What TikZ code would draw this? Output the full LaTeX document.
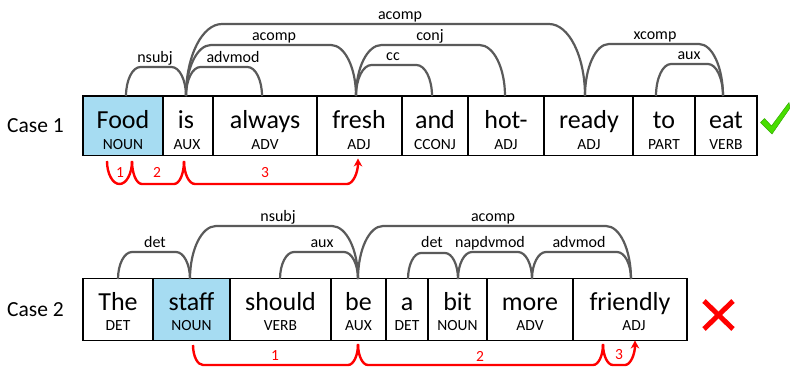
\documentclass[tikz,border=0pt]{standalone}
\usepackage{fontspec}
\setmainfont{Carlito}
\usetikzlibrary{arrows.meta,calc}
\definecolor{arcgray}{RGB}{90,90,90}
\definecolor{nounblue}{RGB}{166,220,242}
\definecolor{redc}{RGB}{255,0,0}
\definecolor{checkgreen}{RGB}{72,222,0}
\definecolor{checkedge}{RGB}{50,170,0}

% gray dependency arc: from, to, height, corner radius
\newcommand\deparc[4]{%
  \draw[arcline] let \p1=(#1), \p2=(#2) in
    (\p1) arc[start angle=180,end angle=90,x radius=#4pt,y radius=#3pt]
    -- ({\x2-#4pt},{\y2+#3pt})
    arc[start angle=90,end angle=0,x radius=#4pt,y radius=#3pt];}
% red step arc: [opts], from, to, radius, left depth, right rise
\newcommand\redarc[6][]{%
  \draw[redpath,#1] let \p1=(#2), \p2=(#3) in
    (\p1) arc[start angle=180,end angle=270,x radius=#4pt,y radius=#5pt]
    -- ({\x2-#4pt},{\y1-#5pt})
    arc[start angle=270,end angle=360,x radius=#4pt,y radius=#6pt];}

\tikzset{
  tok/.style={draw=black, line width=1.5pt, inner sep=0pt},
  tokA/.style={tok, minimum height=59.3pt},
  tokB/.style={tok, minimum height=62pt},
  noun/.style={fill=nounblue},
  word/.style={anchor=base, inner sep=0pt, font=\fontsize{26}{26}\selectfont},
  postag/.style={anchor=base, inner sep=0pt, font=\fontsize{15.5}{15.5}\selectfont},
  arclab/.style={anchor=base, inner sep=0pt, font=\fontsize{16}{16}\selectfont},
  caselab/.style={anchor=base west, inner sep=0pt, font=\fontsize{21.5}{21.5}\selectfont},
  numlab/.style={inner sep=0pt, text=redc, font=\fontsize{15.5}{15.5}\selectfont},
  arcline/.style={draw=arcgray, line width=2.2pt},
  redpath/.style={draw=redc, line width=2.4pt},
  redtip/.style={-{Stealth[length=8pt,width=8.5pt]}},
}

\begin{document}
\begin{tikzpicture}[x=1pt,y=-1pt]
\useasboundingbox (0,0) rectangle (790,368);

% ---------------- Case 1 ----------------
\node[caselab] (case1) at (7,132) {Case 1};

\node[tokA, noun, minimum width=80pt] (food) at (123,125.7) {};
\node[tokA, minimum width=50pt]  (is)     at (188,125.7) {};
\node[tokA, minimum width=104pt] (always) at (265,125.7) {};
\node[tokA, minimum width=85pt]  (fresh)  at (359.5,125.7) {};
\node[tokA, minimum width=66pt]  (and)    at (435,125.7) {};
\node[tokA, minimum width=76pt]  (hot)    at (506,125.7) {};
\node[tokA, minimum width=89pt]  (ready)  at (588.5,125.7) {};
\node[tokA, minimum width=62pt]  (to)     at (664,125.7) {};
\node[tokA, minimum width=62pt]  (eat)    at (726,125.7) {};

\node[word] (food-w)   at (123,128.3) {Food};
\node[word] (is-w)     at (186,128.3) {is};
\node[word] (always-w) at (265,128.3) {always};
\node[word] (fresh-w)  at (359,128.3) {fresh};
\node[word] (and-w)    at (435,128.3) {and};
\node[word] (hot-w)    at (506,128.3) {hot-};
\node[word] (ready-w)  at (589,128.3) {ready};
\node[word] (to-w)     at (664,128.3) {to};
\node[word] (eat-w)    at (726,128.3) {eat};

\node[postag] (food-p)   at (123,149) {NOUN};
\node[postag] (is-p)     at (187,149) {AUX};
\node[postag] (always-p) at (265,149) {ADV};
\node[postag] (fresh-p)  at (359,149) {ADJ};
\node[postag] (and-p)    at (435,149) {CCONJ};
\node[postag] (hot-p)    at (506,149) {ADJ};
\node[postag] (ready-p)  at (589,149) {ADJ};
\node[postag] (to-p)     at (664,149) {PART};
\node[postag] (eat-p)    at (726,149) {VERB};

\coordinate (food-t)   at (126,96);
\coordinate (is-t)     at (186,96);
\coordinate (always-t) at (262,96);
\coordinate (fresh-t)  at (356,96);
\coordinate (and-t)    at (432,96);
\coordinate (hot-t)    at (505,96);
\coordinate (ready-t)  at (585,96);
\coordinate (to-t)     at (656,96);
\coordinate (eat-t)    at (723,96);

\deparc{food-t}{is-t}{29}{14.5}
\deparc{is-t}{always-t}{29}{14.5}
\deparc{is-t}{fresh-t}{51}{25}
\deparc{is-t}{ready-t}{72}{36}
\deparc{fresh-t}{and-t}{31}{15.5}
\deparc{fresh-t}{hot-t}{51}{25.5}
\deparc{ready-t}{eat-t}{52}{24}
\deparc{to-t}{eat-t}{32}{15}

\node[arclab] (l-nsubj1)  at (155,62) {nsubj};
\node[arclab] (l-advmod1) at (233,62) {advmod};
\node[arclab] (l-acomp1)  at (274,40) {acomp};
\node[arclab] (l-acomp2)  at (400,19) {acomp};
\node[arclab] (l-cc)      at (393,60) {cc};
\node[arclab] (l-conj)    at (430,40) {conj};
\node[arclab] (l-xcomp)   at (655,39) {xcomp};
\node[arclab] (l-aux1)    at (689,59) {aux};

% red path case 1
\coordinate (ra) at (107,161);
\coordinate (rb) at (132,161);
\coordinate (rc) at (184,161);
\coordinate (rd) at (358,158.5);
\redarc{ra}{rb}{12.5}{23}{23}
\redarc{rb}{rc}{10}{23}{23}
\redarc[redtip]{rc}{rd}{11}{23}{25.5}
\node[numlab] (n1a) at (120,172.5) {1};
\node[numlab] (n2a) at (157,172.5) {2};
\node[numlab] (n3a) at (265,172.5) {3};

% check mark
\filldraw[fill=checkgreen, draw=checkedge, line width=0.5pt, line join=round]
  (760.5,122.5) -- (764.5,118.5) -- (771.5,126) -- (789,102.5) -- (790,108)
  -- (772,134) -- cycle;

% ---------------- Case 2 ----------------
\node[caselab] (case2) at (7,316) {Case 2};

\node[tokB, minimum width=70pt]  (the)      at (118,309.7) {};
\node[tokB, noun, minimum width=77pt] (staff) at (191.5,309.7) {};
\node[tokB, minimum width=101pt] (should)   at (280.5,309.7) {};
\node[tokB, minimum width=55pt]  (be)       at (358.5,309.7) {};
\node[tokB, minimum width=42pt]  (a)        at (407,309.7) {};
\node[tokB, minimum width=59pt]  (bit)      at (457.5,309.7) {};
\node[tokB, minimum width=86pt]  (more)     at (530,309.7) {};
\node[tokB, minimum width=114pt] (friendly) at (630,309.7) {};

\node[word] (the-w)      at (118,310) {The};
\node[word] (staff-w)    at (191.5,310) {staff};
\node[word] (should-w)   at (280.5,310) {should};
\node[word] (be-w)       at (358.5,310) {be};
\node[word] (a-w)        at (407,310) {a};
\node[word] (bit-w)      at (457.5,310) {bit};
\node[word] (more-w)     at (530,310) {more};
\node[word] (friendly-w) at (630,310) {friendly};

\node[postag] (the-p)      at (118,330.5) {DET};
\node[postag] (staff-p)    at (191.5,330.5) {NOUN};
\node[postag] (should-p)   at (280.5,330.5) {VERB};
\node[postag] (be-p)       at (358.5,330.5) {AUX};
\node[postag] (a-p)        at (407,330.5) {DET};
\node[postag] (bit-p)      at (457.5,330.5) {NOUN};
\node[postag] (more-p)     at (530,330.5) {ADV};
\node[postag] (friendly-p) at (634,330.5) {ADJ};

\coordinate (the-t)      at (118,279);
\coordinate (staff-t)    at (190,279);
\coordinate (should-t)   at (280,279);
\coordinate (be-t)       at (358,279);
\coordinate (a-t)        at (408,279);
\coordinate (bit-t)      at (458,279);
\coordinate (more-t)     at (532,279);
\coordinate (friendly-t) at (631,279);

\deparc{the-t}{staff-t}{27}{14}
\deparc{staff-t}{be-t}{53}{26}
\deparc{should-t}{be-t}{27}{14}
\deparc{be-t}{friendly-t}{53}{25}
\deparc{a-t}{bit-t}{26}{13}
\deparc{bit-t}{more-t}{27}{14}
\deparc{more-t}{friendly-t}{27}{14}

\node[arclab] (l-det1)     at (155,247) {det};
\node[arclab] (l-nsubj2)   at (278,221) {nsubj};
\node[arclab] (l-aux2)     at (322,247) {aux};
\node[arclab] (l-acomp3)   at (493,221) {acomp};
\node[arclab] (l-det2)     at (432,247) {det};
\node[arclab] (l-napdvmod) at (490,247) {napdvmod};
\node[arclab] (l-advmod2)  at (579,247) {advmod};

% red path case 2
\coordinate (sa) at (193,345);
\coordinate (sb) at (358,344);
\coordinate (sc) at (603,344);
\coordinate (sd) at (635,340.5);
\redarc{sa}{sb}{10}{20}{21}
\redarc{sb}{sc}{10}{21}{21}
\redarc[redtip]{sc}{sd}{10}{21}{24.5}
\node[numlab] (n1b) at (275,356) {1};
\node[numlab] (n2b) at (480,356) {2};
\node[numlab] (n3b) at (619,355) {3};

% red cross
\draw[draw=redc, line width=5pt] (704,301) -- (733,329);
\draw[draw=redc, line width=5pt] (733,301) -- (704,329);
\end{tikzpicture}
\end{document}
